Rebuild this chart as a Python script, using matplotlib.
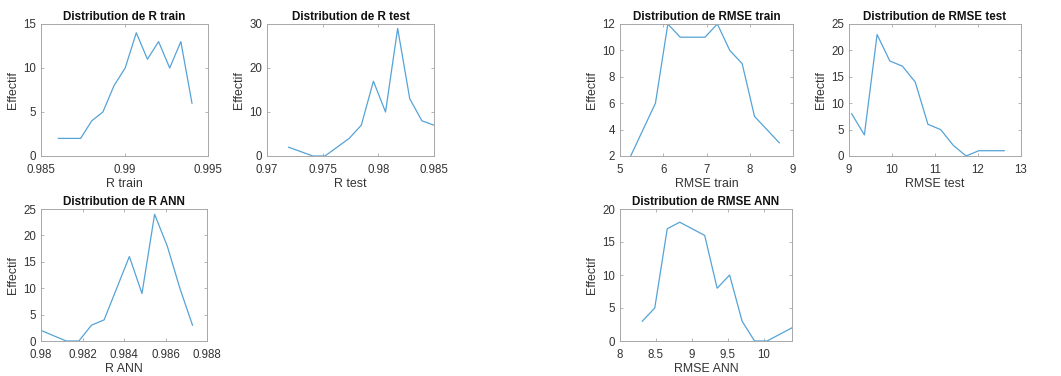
import numpy as np
import matplotlib
matplotlib.use("Agg")
import matplotlib.pyplot as plt

plt.rcParams['font.family'] = ['Liberation Sans', 'DejaVu Sans']

# Histogram-like counts (bin centres, counts)
r_train_x = np.linspace(0.98604, 0.99404, 13)
r_train_y = [2, 2, 2, 4, 5, 8, 10, 14, 11, 13, 10, 13, 6]

r_test_x = np.linspace(0.97194, 0.98500, 13)
r_test_y = [2, 1, 0, 0, 2, 4, 7, 17, 10, 29, 13, 8, 7]

rmse_train_x = np.linspace(5.247, 8.683, 13)
rmse_train_y = [2, 4, 6, 12, 11, 11, 11, 12, 10, 9, 5, 4, 3]

rmse_test_x = np.linspace(9.062, 12.61, 13)
rmse_test_y = [8, 4, 23, 18, 17, 14, 6, 5, 2, 0, 1, 1, 1]

r_ann_x = np.linspace(0.98000, 0.98730, 13)
r_ann_y = [2, 1, 0, 0, 3, 4, 10, 16, 9, 24, 18, 10, 3]

rmse_ann_x = np.linspace(8.31, 10.393, 13)
rmse_ann_y = [3, 5, 17, 18, 17, 16, 8, 10, 3, 0, 0, 1, 2]

W, H = 1061, 376
LINE = '#55a3d7'
GREY = '#333333'


def panel(fig, box, x, y, title, xlabel, xlim, ylim, xticks, yticks):
    l, t, r, b = box
    ax = fig.add_axes([l / W, 1 - b / H, (r - l) / W, (b - t) / H])
    ax.plot(x, y, color=LINE, lw=0.9)
    ax.set_xlim(xlim)
    ax.set_ylim(ylim)
    ax.set_xticks(xticks)
    ax.set_xticklabels(['%g' % v for v in xticks])
    ax.set_yticks(yticks)
    ax.tick_params(direction='in', length=2.5, width=0.6, colors='#a8a8a8',
                   labelcolor=GREY, labelsize=8.3, top=True, right=True)
    ax.tick_params(axis='x', pad=5.5)
    ax.tick_params(axis='y', pad=3.5)
    for s in ax.spines.values():
        s.set_color('#a8a8a8')
        s.set_linewidth(0.7)
    ax.set_title(title, fontsize=8.4, fontweight='bold', color='#111111', pad=3)
    ax.set_xlabel(xlabel, fontsize=8.9, color=GREY, labelpad=2)
    ax.set_ylabel('Effectif', fontsize=8.9, color=GREY, labelpad=3)
    return ax


fig = plt.figure(figsize=(W / 100, H / 100), dpi=100)

panel(fig, (41, 24, 208, 156), r_train_x, r_train_y, 'Distribution de R train', 'R train',
      (0.985, 0.995), (0, 15), [0.985, 0.99, 0.995], [0, 5, 10, 15])
panel(fig, (267, 24, 434, 156), r_test_x, r_test_y, 'Distribution de R test', 'R test',
      (0.97, 0.985), (0, 30), [0.97, 0.975, 0.98, 0.985], [0, 10, 20, 30])
panel(fig, (620, 24, 793, 156), rmse_train_x, rmse_train_y, 'Distribution de RMSE train', 'RMSE train',
      (5, 9), (2, 12), [5, 6, 7, 8, 9], [2, 4, 6, 8, 10, 12])
panel(fig, (849, 24, 1021, 156), rmse_test_x, rmse_test_y, 'Distribution de RMSE test', 'RMSE test',
      (9, 13), (0, 25), [9, 10, 11, 12, 13], [0, 5, 10, 15, 20, 25])
panel(fig, (41, 209, 207, 341), r_ann_x, r_ann_y, 'Distribution de R ANN', 'R ANN',
      (0.98, 0.988), (0, 25), [0.98, 0.982, 0.984, 0.986, 0.988], [0, 5, 10, 15, 20, 25])
panel(fig, (620, 209, 792, 341), rmse_ann_x, rmse_ann_y, 'Distribution de RMSE ANN', 'RMSE ANN',
      (8, 10.393), (0, 20), [8, 8.5, 9, 9.5, 10], [0, 5, 10, 15, 20])

fig.savefig('out.png', dpi=100)
